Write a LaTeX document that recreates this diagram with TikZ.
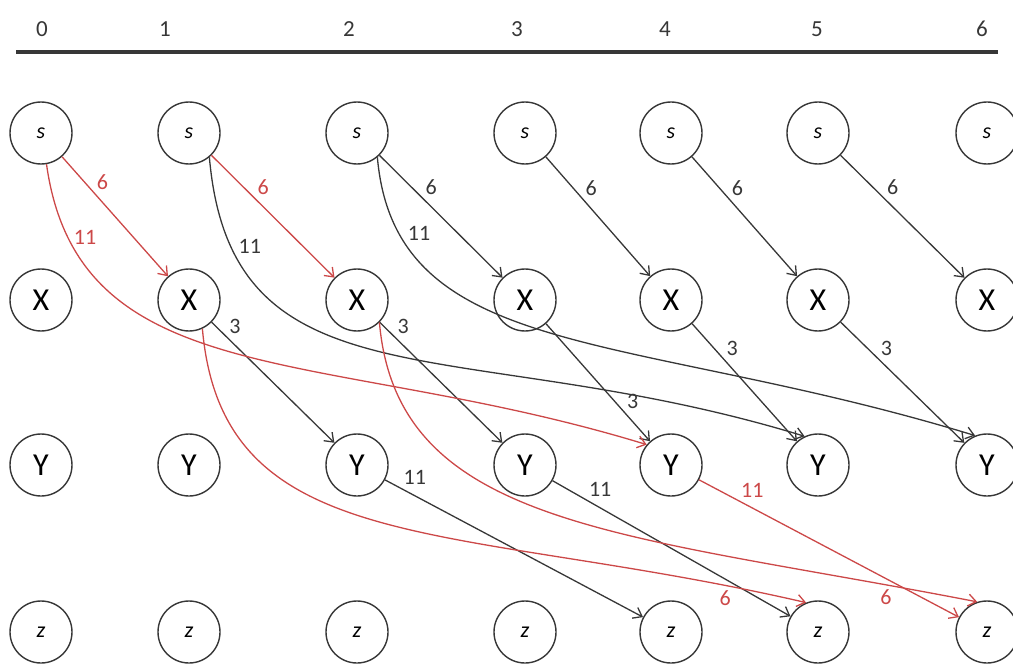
\documentclass[tikz,border=0pt]{standalone}
\usepackage{fontspec}
\setmainfont{Carlito}
\usetikzlibrary{arrows.meta}
\definecolor{pathred}{RGB}{204,72,72}
\definecolor{ringgray}{RGB}{55,55,55}
\tikzset{>={Straight Barb[length=8pt,width=12pt]},auto}
\tikzset{vert/.style={draw=ringgray,line width=1.4pt,circle,minimum size=62pt,inner sep=0pt}}
\tikzset{lowv/.style={vert,font=\fontsize{22}{22}\selectfont\itshape}}
\tikzset{capv/.style={vert,font=\fontsize{32}{32}\selectfont}}
\tikzset{hdr/.style={font=\fontsize{23}{23}\selectfont,text=ringgray}}
\tikzset{wt/.style={font=\fontsize{22}{22}\selectfont,inner sep=2.5pt}}
\tikzset{hot/.style={pathred}}

\begin{document}
\begin{tikzpicture}[x=1pt,y=1pt]
	\useasboundingbox (0,0) rectangle (1013,-666);
	% time steps
	\node[hdr] (h0) at (42,-29) {0};
	\node[hdr] (h1) at (165,-29) {1};
	\node[hdr] (h2) at (349,-29) {2};
	\node[hdr] (h3) at (517,-29) {3};
	\node[hdr] (h4) at (665,-29) {4};
	\node[hdr] (h5) at (817,-29) {5};
	\node[hdr] (h6) at (982,-29) {6};
	\coordinate (ruleL) at (16,-52.5);
	\coordinate (ruleR) at (998,-52.5);
	\draw[line width=4pt,ringgray] (ruleL) -- (ruleR);
	% one column of states per step
	\foreach \i/\cx in {0/41,1/189,2/357,3/525,4/671,5/818,6/987} {
		\node[lowv] (s\i) at (\cx,-133) {s};
		\node[capv] (x\i) at (\cx,-300) {X};
		\node[capv] (y\i) at (\cx,-465) {Y};
		\node[lowv] (z\i) at (\cx,-632) {z};
	}
	\path[->,line width=1.3pt,ringgray]
		(s2) edge node[wt,pos=0.35] {6} (x3)
		(s3) edge node[wt,pos=0.35] {6} (x4)
		(s4) edge node[wt,pos=0.35] {6} (x5)
		(s5) edge node[wt,pos=0.35] {6} (x6)
		(s1.-50) edge[out=-85,in=163,out looseness=1,in looseness=1.4] node[wt,pos=0.16] {11} (y5.115)
		(s2.-50) edge[out=-85,in=163,out looseness=0.8,in looseness=1.4] node[wt,pos=0.17] {11} (y6.112)
		(x1) edge node[wt,pos=0.12] {3} (y2)
		(x2) edge node[wt,pos=0.12] {3} (y3)
		(x3) edge node[wt,pos=0.75] {3} (y4)
		(x4) edge node[wt,pos=0.3] {3} (y5)
		(x5) edge node[wt,pos=0.3] {3} (y6)
		(y2) edge node[wt,pos=0.06] {11} (z4)
		(y3) edge node[wt,pos=0.14] {11} (z5);
	% shortest route
	\path[->,line width=1.3pt,hot]
		(s0) edge node[wt,pos=0.3] {6} (x1)
		(s1) edge node[wt,pos=0.35] {6} (x2)
		(s0.-80) edge[out=-82,in=163,out looseness=0.9,in looseness=1.3] node[wt,pos=0.14,inner sep=1pt] {11} (y4.140)
		(x1.-65) edge[out=-85,in=167,out looseness=0.9,in looseness=1.4] node[wt,pos=0.93,swap] {6} (z5.112)
		(x2.-45) edge[out=-85,in=169,out looseness=0.8,in looseness=1.4] node[wt,pos=0.92,swap] {6} (z6.108)
		(y4) edge node[wt,pos=0.15] {11} (z6);
\end{tikzpicture}
\end{document}
